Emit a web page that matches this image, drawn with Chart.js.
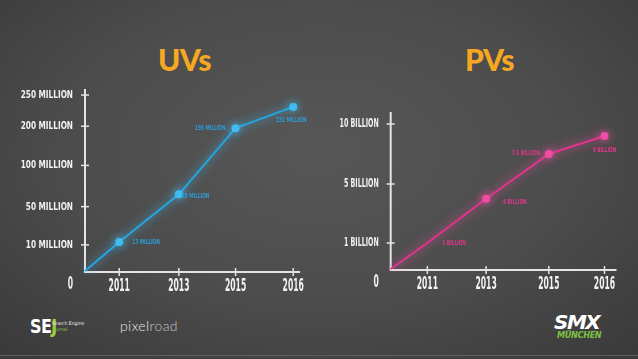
<!DOCTYPE html>
<html>
<head>
<meta charset="utf-8">
<script src="https://cdn.jsdelivr.net/npm/chart.js@4.4.1/dist/chart.umd.min.js"></script>
<style>
html,body{margin:0;padding:0;width:638px;height:359px;overflow:hidden;}
body{position:relative;background:radial-gradient(ellipse 72% 78% at 50% 42%, #575757 0%, #4c4c4c 55%, #3a3a3a 100%);font-family:Lato,sans-serif;}
.wrap{position:absolute;}
#w1{left:0;top:70px;width:320px;height:230px;}
#w2{left:320px;top:70px;width:318px;height:230px;}
.title{position:absolute;top:44px;font-weight:900;font-size:30px;line-height:30px;font-family:Lato,sans-serif;color:#f7a823;letter-spacing:-0.5px;}
#t1{left:158px;}
#t2{left:465px;}
.sej{position:absolute;left:30px;top:316px;color:#fff;font:bold 20px 'DejaVu Sans',sans-serif;line-height:20px;transform:scaleX(0.8);transform-origin:0 0;letter-spacing:-0.8px;}
.sej i{font-style:normal;color:#9ccc3c;}
.sejsmall{position:absolute;left:52px;top:320px;font:5px 'DejaVu Sans Condensed',sans-serif;line-height:6px;color:#eee;}
.sejsmall span{color:#8dc63f;display:block;}
.pixel{position:absolute;left:120px;top:317px;font:300 14px Lato,sans-serif;color:#e8e8e8;letter-spacing:0.4px;}
.pixel span{color:#c4c4c4;}
.smx{position:absolute;left:554px;top:312px;font:italic 900 20px 'DejaVu Sans',sans-serif;color:#fff;letter-spacing:-1.5px;line-height:20px;}
.munich{position:absolute;left:557px;top:330px;font:italic bold 9px 'DejaVu Sans Condensed','DejaVu Sans',sans-serif;color:#7cc242;letter-spacing:-0.3px;line-height:10px;}
.bottomline{position:absolute;left:0;top:355px;width:638px;height:1px;background:#5e5e5e;}
</style>
</head>
<body>
<div class="title" id="t1">UVs</div>
<div class="title" id="t2">PVs</div>
<div class="wrap" id="w1"><canvas id="c1"></canvas></div>
<div class="wrap" id="w2"><canvas id="c2"></canvas></div>
<div class="sej">SE<i>J</i></div>
<div class="sejsmall">Search Engine<span>Journal</span></div>
<div class="pixel">pixel<span>road</span></div>
<div class="smx">SMX</div>
<div class="munich">MÜNCHEN</div>
<div class="bottomline"></div>
<script>
// ---- Data ----
const uvCategories = ['', '2011', '2013', '2015', '2016'];
const uvValues = [0, 13, 65, 195, 231];
const uvTickValues = [0, 10, 50, 100, 200, 250];
const uvTickLabels = ['0', '10 MILLION', '50 MILLION', '100 MILLION', '200 MILLION', '250 MILLION'];
const uvPointLabels = ['', '13 MILLION', '65 MILLION', '195 MILLION', '231 MILLION'];

const pvCategories = ['', '2011', '2013', '2015', '2016'];
const pvValues = [0, 1, 4, 7.5, 9];
const pvTickValues = [0, 1, 5, 10];
const pvTickLabels = ['0', '1 BILLION', '5 BILLION', '10 BILLION'];
const pvPointLabels = ['', '1 BILLION', '4 BILLION', '7.5 BILLION', '9 BILLION'];

const NARROW = "'DejaVu Sans Condensed','Liberation Sans Narrow',sans-serif";
// horizontal compression per font size (to imitate the tall condensed poster font)
const SQUEEZE = { 17: 0.5, 11: 0.74, 13: 0.54, 7: 0.68 };

function squeezeCtx(ctx) {
  if (ctx._sq) return;
  ctx._sq = true;
  const orig = ctx.fillText;
  ctx.fillText = function (t, x, y, mw) {
    const m = /(\d+(?:\.\d+)?)px/.exec(this.font);
    const f = SQUEEZE[m ? parseFloat(m[1]) : 0] || 1;
    const w = this.measureText(t).width * f;
    if (!(w > 0)) return orig.call(this, t, x, y);
    return orig.call(this, t, x, y, (mw === undefined || mw === null) ? w : Math.min(mw, w));
  };
}

// ---- custom scales (uneven spacing, as in the infographic) ----
function weightedDecimal(pos, gaps, tail) {
  const total = gaps.reduce((a, b) => a + b, 0) + (tail || 0);
  let acc = 0;
  const i = Math.floor(pos);
  for (let k = 0; k < Math.min(i, gaps.length); k++) acc += gaps[k];
  if (i < gaps.length) acc += (pos - i) * gaps[i];
  else acc += (pos - gaps.length) * (tail || gaps[gaps.length - 1]);
  return acc / total;
}
function rawCfg(scale) { return scale.chart.config.options.scales[scale.id]; }

class BreakScale extends Chart.LinearScale {
  static id = 'breaks';
  static defaults = {};
  determineDataLimits() {
    const b = rawCfg(this).breaks;
    this.min = b[0]; this.max = b[b.length - 1];
  }
  buildTicks() {
    const b = rawCfg(this).breaks;
    this.start = this.min; this.end = this.max;
    return b.map(v => ({ value: v }));
  }
  _idx(v) {
    const b = rawCfg(this).breaks;
    for (let i = 1; i < b.length; i++) if (v <= b[i]) return (i - 1) + (v - b[i - 1]) / (b[i] - b[i - 1]);
    return b.length - 1;
  }
  getPixelForValue(v) {
    if (v === null || v === undefined || isNaN(v)) return NaN;
    const c = rawCfg(this);
    return this.getPixelForDecimal(weightedDecimal(this._idx(v), c.gaps, c.tail));
  }
  getValueForPixel() { return 0; }
}
class GapCategoryScale extends Chart.CategoryScale {
  static id = 'gapcategory';
  static defaults = {};
  getPixelForValue(value) {
    if (typeof value !== 'number') value = this.parse(value);
    if (value === null || value === undefined) return NaN;
    const c = rawCfg(this);
    return this.getPixelForDecimal(weightedDecimal(value, c.gaps, c.tail));
  }
}
Chart.register(BreakScale, GapCategoryScale);

// ---- decoration plugin: axes, cross ticks, glow, point labels ----
const deco = {
  id: 'deco',
  beforeDraw(chart) { squeezeCtx(chart.ctx); },
  beforeDatasetsDraw(chart, args, o) {
    const ctx = chart.ctx, a = chart.chartArea;
    const xs = chart.scales.x, ys = chart.scales.y;
    ctx.save();
    ctx.strokeStyle = '#e4e4e4';
    ctx.lineWidth = 2;
    ctx.beginPath();
    ctx.moveTo(a.left, a.top); ctx.lineTo(a.left, a.bottom + 1); ctx.lineTo(a.right, a.bottom + 1);
    ctx.stroke();
    ctx.lineWidth = 1.5;
    ys.ticks.forEach((t, i) => {
      if (i === 0) return;
      const y = ys.getPixelForTick(i);
      ctx.beginPath(); ctx.moveTo(a.left - 4, y); ctx.lineTo(a.left + 4, y); ctx.stroke();
    });
    xs.ticks.forEach((t, i) => {
      if (i === 0) return;
      const x = xs.getPixelForTick(i);
      ctx.beginPath(); ctx.moveTo(x, a.bottom - 3); ctx.lineTo(x, a.bottom + 5); ctx.stroke();
    });
    // origin label
    ctx.fillStyle = '#f2f2f2';
    ctx.font = 'bold 17px ' + NARROW;
    ctx.textAlign = 'center';
    ctx.textBaseline = 'middle';
    ctx.fillText(o.originLabel, a.left - 14.5, a.bottom + 14);
    ctx.restore();
    ctx.save();
    ctx.shadowColor = o.glow;
    ctx.shadowBlur = 10;
  },
  afterDatasetsDraw(chart, args, o) {
    const ctx = chart.ctx;
    ctx.restore();
    const meta = chart.getDatasetMeta(0);
    ctx.save();
    ctx.fillStyle = o.labelColor;
    ctx.font = 'bold 7px ' + NARROW;
    ctx.textBaseline = 'middle';
    o.labels.forEach((txt, i) => {
      if (!txt) return;
      const p = meta.data[i], pl = o.place[i];
      ctx.textAlign = pl[0];
      ctx.fillText(txt, p.x + pl[1], p.y + pl[2]);
    });
    ctx.restore();
  }
};

function makeChart(id, c) {
  return new Chart(document.getElementById(id), {
    type: 'line',
    data: {
      labels: c.categories,
      datasets: [{
        data: c.values,
        borderColor: c.line,
        borderWidth: 2,
        pointRadius: c.radii,
        pointBackgroundColor: c.point,
        pointBorderWidth: 0,
        tension: 0
      }]
    },
    options: {
      responsive: true,
      maintainAspectRatio: false,
      animation: false,
      layout: { padding: c.padding },
      plugins: {
        legend: { display: false },
        tooltip: { enabled: false },
        deco: { glow: c.glow, labelColor: c.labelColor, labels: c.pointLabels, place: c.place, originLabel: c.tickLabels[0] }
      },
      scales: {
        x: {
          type: 'gapcategory', gaps: c.xGaps, tail: c.xTail,
          grid: { display: false, drawTicks: false }, border: { display: false },
          ticks: { color: '#f2f2f2', font: { family: NARROW, size: 17, weight: 'bold' }, padding: 5, autoSkip: false, maxRotation: 0 },
          afterFit: s => { s.height = c.xHeight; }
        },
        y: {
          type: 'breaks', breaks: c.tickValues, gaps: c.yGaps, tail: c.yTail,
          grid: { display: false, drawTicks: false }, border: { display: false },
          ticks: { color: '#f2f2f2', font: { family: NARROW, size: c.ySize, weight: 'bold' }, padding: 12, autoSkip: false,
                   callback: (v, i) => i === 0 ? '' : c.tickLabels[i] },
          afterFit: s => { s.width = c.yWidth; }
        }
      }
    },
    plugins: [deco]
  });
}

makeChart('c1', {
  categories: uvCategories, values: uvValues, tickValues: uvTickValues, tickLabels: uvTickLabels, pointLabels: uvPointLabels,
  line: '#22a6e0', point: '#3fbdf2', glow: 'rgba(70,195,255,0.95)', labelColor: '#2b9dd8',
  radii: [0, 4, 4, 4, 4], ySize: 11,
  xGaps: [35, 61, 58, 59], xTail: 7,
  yGaps: [26, 38, 41, 39, 31], yTail: 6,
  padding: { top: 19, right: 15, left: 0, bottom: 0 }, yWidth: 85, xHeight: 29,
  place: [null, ['left', 13, 0], ['left', 3, 2], ['right', -10, 0], ['center', -2, 13]]
});
makeChart('c2', {
  categories: pvCategories, values: pvValues, tickValues: pvTickValues, tickLabels: pvTickLabels, pointLabels: pvPointLabels,
  line: '#e2338d', point: '#f24ba3', glow: 'rgba(255,80,170,0.95)', labelColor: '#e0358d',
  radii: [0, 0, 4, 4, 4], ySize: 13,
  xGaps: [36.6, 58.7, 62.7, 55.6], xTail: 12,
  yGaps: [26, 59, 60], yTail: 12,
  padding: { top: 42, right: 21.5, left: 0, bottom: 0 }, yWidth: 70.7, xHeight: 31,
  place: [null, ['left', 15, 0], ['left', 17, 3], ['right', -9, -1], ['center', 0, 14]]
});
</script>
</body>
</html>
